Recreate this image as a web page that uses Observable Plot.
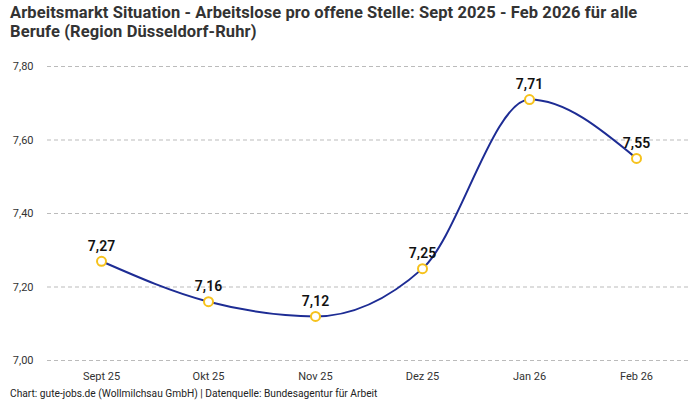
<!DOCTYPE html>
<html>
<head>
<meta charset="utf-8">
<script src="https://cdn.jsdelivr.net/npm/d3@7"></script>
<script src="https://cdn.jsdelivr.net/npm/@observablehq/plot@0.6"></script>
<style>
  body { margin: 0; background: #fff; font-family: Roboto, "Noto Sans", sans-serif; }
  #title { font-size: 16.5px; font-weight: 700; color: #333; line-height: 19px; padding: 3px 10px 0 10px; height: 45px; box-sizing: border-box; letter-spacing: 0.1px; }
  #caption { font-size: 10.2px; color: #222; padding: 1px 10px 0 10px; line-height: 12px; }
</style>
</head>
<body>
<div id="title">Arbeitsmarkt Situation - Arbeitslose pro offene Stelle: Sept 2025 - Feb 2026 für alle<br>Berufe (Region Düsseldorf-Ruhr)</div>
<div id="chart"></div>
<div id="caption">Chart: gute-jobs.de (Wollmilchsau GmbH) | Datenquelle: Bundesagentur für Arbeit</div>
<script>
const months = ["Sept 25", "Okt 25", "Nov 25", "Dez 25", "Jan 26", "Feb 26"];
const values = [7.27, 7.16, 7.12, 7.25, 7.71, 7.55];
const yTicks = [7.0, 7.2, 7.4, 7.6, 7.8];

const data = months.map((m, i) => ({month: m, value: values[i]}));
const fmt = d => d.toFixed(2).replace(".", ",");

const chart = Plot.plot({
  width: 700,
  height: 342,
  marginTop: 21,
  marginLeft: 47,
  marginRight: 10,
  marginBottom: 27,
  style: {fontFamily: "Roboto, 'Noto Sans', sans-serif", fontSize: "11px", color: "#333"},
  x: {type: "point", domain: months, padding: 0.5, label: null},
  y: {domain: [7.0, 7.8], label: null},
  marks: [
    Plot.gridY(yTicks, {stroke: "#bbb", strokeOpacity: 1, strokeDasharray: "4,3"}),
    Plot.axisY({ticks: yTicks, tickFormat: fmt, tickSize: 0, tickPadding: 14, label: null}),
    Plot.axisX({tickSize: 0, tickPadding: 12, label: null}),
    Plot.line(data, {x: "month", y: "value", curve: "monotone-x", stroke: "#1d2c94", strokeWidth: 2}),
    Plot.dot(data, {x: "month", y: "value", r: 4.5, fill: "white", stroke: "#f6c21c", strokeWidth: 2}),
    Plot.text(data, {x: "month", y: "value", text: d => fmt(d.value), dy: -15, fontSize: 14, fontWeight: 600, fill: "#111"})
  ]
});
document.getElementById("chart").appendChild(chart);
</script>
</body>
</html>
